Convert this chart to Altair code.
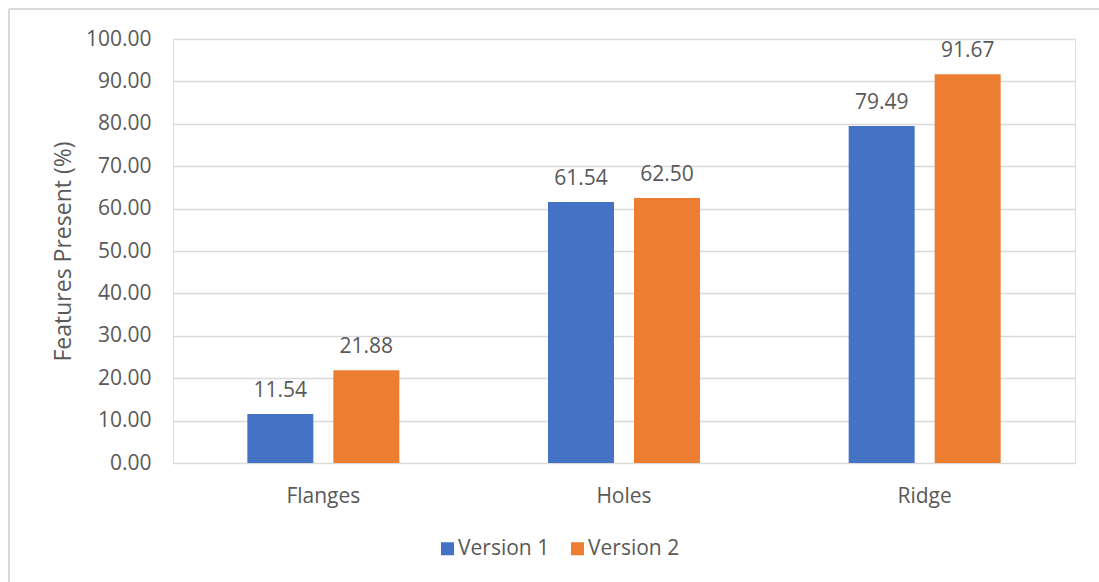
import altair as alt
import pandas as pd

# Share of designs showing each feature, per version
features = ["Flanges", "Holes", "Ridge"]
series = ["Version 1", "Version 2"]
version_1 = [11.54, 61.54, 79.49]
version_2 = [21.88, 62.50, 91.67]
y_ticks = [0, 10, 20, 30, 40, 50, 60, 70, 80, 90, 100]
colors = ["#4472C4", "#ED7D31"]

rows = []
for feat, v1, v2 in zip(features, version_1, version_2):
    rows.append({"feature": feat, "version": series[0], "value": v1})
    rows.append({"feature": feat, "version": series[1], "value": v2})
df = pd.DataFrame(rows)

FONT = "Open Sans"
TEXT = "#595959"
GRID = "#d9d9d9"
FS = 21

W, H = 902, 424
LEFT, TOP = 173, 39
FULL_W, FULL_H = 1099, 582

base = alt.Chart(df).encode(
    x=alt.X(
        "feature:N",
        sort=features,
        scale=alt.Scale(paddingInner=0, paddingOuter=0),
        axis=alt.Axis(
            title=None, labelAngle=0, labelFontSize=FS, labelColor=TEXT,
            labelFont=FONT, labelPadding=22, domain=False, ticks=False,
        ),
    ),
    xOffset=alt.XOffset(
        "version:N", sort=series,
        scale=alt.Scale(paddingInner=0.2326, paddingOuter=0.8645),
    ),
)

bars = base.mark_bar().encode(
    y=alt.Y(
        "value:Q",
        scale=alt.Scale(domain=[0, 100], nice=False),
        axis=alt.Axis(
            values=y_ticks, format=".2f", title="Features Present (%)",
            labelFontSize=FS, labelColor=TEXT, labelFont=FONT, labelPadding=22,
            domain=False, ticks=False, grid=True, gridColor=GRID, gridWidth=1.5,
            titleFontSize=23, titleFontWeight="normal", titleColor=TEXT,
            titleFont=FONT, titleX=-110, titleY=H / 2, titleAngle=270,
            titleAlign="center", titleBaseline="middle",
        ),
    ),
    color=alt.Color(
        "version:N",
        scale=alt.Scale(domain=series, range=colors),
        legend=alt.Legend(
            title=None, orient="none", direction="horizontal",
            legendX=264, legendY=499, symbolType="square", symbolSize=169,
            symbolStrokeWidth=0, labelFontSize=FS, labelColor=TEXT,
            labelFont=FONT, labelOffset=0, columnPadding=17, padding=0,
        ),
    ),
)

labels = base.mark_text(
    baseline="alphabetic", dy=-17, fontSize=FS, color=TEXT, font=FONT
).encode(
    y="value:Q",
    text=alt.Text("value:Q", format=".2f"),
)

# Light frame around the chart area (top and left edges)
frame_src = alt.Chart(pd.DataFrame({"edge": [0]}))
left_edge = frame_src.mark_rule(color=GRID, strokeWidth=2).encode(
    x=alt.value(9 - LEFT), y=alt.value(9 - TOP), y2=alt.value(FULL_H - TOP + 5)
)
top_edge = frame_src.mark_rule(color=GRID, strokeWidth=2).encode(
    x=alt.value(9 - LEFT), x2=alt.value(FULL_W - LEFT + 5), y=alt.value(9 - TOP)
)

chart = (
    alt.layer(left_edge, top_edge, bars, labels)
    .properties(
        width=W,
        height=H,
        padding={"left": LEFT, "top": TOP, "right": FULL_W - LEFT - W, "bottom": FULL_H - TOP - H},
        autosize=alt.AutoSizeParams(type="none"),
        background="white",
    )
    .configure_view(stroke=None)
    .configure(font=FONT)
)

chart.save("out.html", embed_options={"renderer": "svg", "actions": False})
